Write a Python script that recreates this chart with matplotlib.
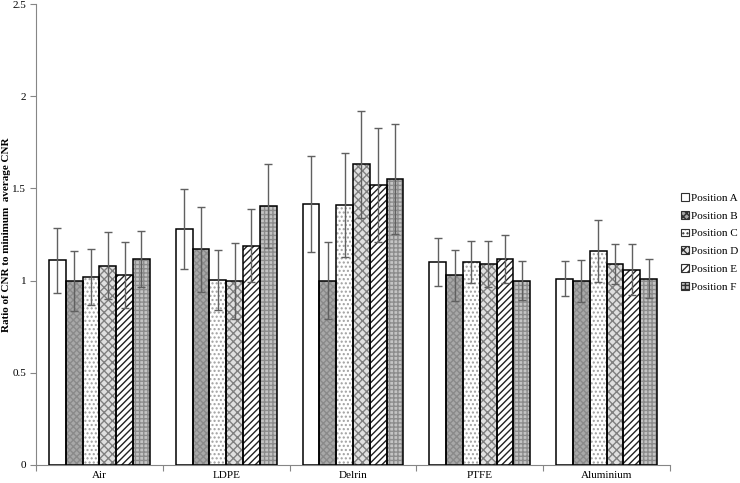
import matplotlib
matplotlib.use("Agg")
import matplotlib.pyplot as plt
import numpy as np
from matplotlib.patches import Patch

plt.rcParams['font.family'] = ['Liberation Serif', 'DejaVu Serif']
plt.rcParams['hatch.linewidth'] = 1.0

categories = ["Air", "LDPE", "Delrin", "PTFE", "Aluminium"]
positions = ["Position A", "Position B", "Position C", "Position D", "Position E", "Position F"]

# rows = positions A-F, columns = materials
pos_a = [1.11, 1.28, 1.415, 1.10, 1.01]
pos_b = [1.00, 1.17, 1.00, 1.03, 1.00]
pos_c = [1.02, 1.005, 1.41, 1.10, 1.16]
pos_d = [1.08, 1.00, 1.63, 1.09, 1.09]
pos_e = [1.03, 1.19, 1.52, 1.115, 1.06]
pos_f = [1.115, 1.405, 1.55, 1.00, 1.01]

err_a = [0.175, 0.215, 0.26, 0.13, 0.095]
err_b = [0.163, 0.23, 0.21, 0.138, 0.114]
err_c = [0.152, 0.163, 0.28, 0.114, 0.17]
err_d = [0.181, 0.206, 0.29, 0.125, 0.109]
err_e = [0.179, 0.20, 0.31, 0.13, 0.136]
err_f = [0.152, 0.228, 0.30, 0.106, 0.106]

values = [pos_a, pos_b, pos_c, pos_d, pos_e, pos_f]
errors = [err_a, err_b, err_c, err_d, err_e, err_f]

# (facecolor, hatch, hatch colour)
styles = [
    ("white", "", "black"),
    ("#a8a8a8", "xxxxx", "#8a8a8a"),
    ("white", "....", "#a0a0a0"),
    ("#e0e0e0", "xxxx", "#808080"),
    ("white", "/////", "#202020"),
    ("#c4c4c4", "++++", "#8c8c8c"),
]

fig = plt.figure(figsize=(7.4, 4.83), dpi=100)
ax = fig.add_axes([0.0486, 0.0373, 0.8568, 0.9544])

x = np.arange(len(categories))
w = 0.1325
for i in range(6):
    xs = x + (i - 2.5) * w
    fc, h, hc = styles[i]
    ax.bar(xs, values[i], w, color=fc, hatch=h, edgecolor=hc, linewidth=0, zorder=2)
    ax.bar(xs, values[i], w, fill=False, edgecolor="black", linewidth=1.1, zorder=3)
    ax.errorbar(xs, values[i], yerr=errors[i], fmt="none", ecolor="#606060",
                elinewidth=1, capsize=3, capthick=1, zorder=4)

ax.set_xlim(-0.5, len(categories) - 0.5)
ax.set_ylim(0, 2.5)
ax.set_yticks([0, 0.5, 1, 1.5, 2, 2.5])
ax.set_yticklabels(["0", "0.5", "1", "1.5", "2", "2.5"], fontsize=8)
ax.set_xticks(np.arange(-0.5, len(categories), 1))
ax.set_xticklabels([])
ax.set_xticks(x, minor=True)
ax.set_xticklabels(categories, minor=True, fontsize=8)
ax.tick_params(axis="x", which="minor", length=0, pad=4)
ax.tick_params(axis="x", which="major", length=4, color="#868686")
ax.tick_params(axis="y", length=4, color="#868686", pad=3)

for s in ["top", "right"]:
    ax.spines[s].set_visible(False)
for s in ["left", "bottom"]:
    ax.spines[s].set_color("#868686")

ax.set_ylabel("Ratio of CNR to minimum  average CNR", fontsize=8, fontweight="bold")
ax.yaxis.set_label_coords(-0.039, 0.5)

handles = [Patch(facecolor=fc, hatch=h, edgecolor="#303030", linewidth=0.8)
           for fc, h, hc in styles]
ax.legend(handles, positions, loc="center left", bbox_to_anchor=(1.01, 0.483),
          frameon=False, fontsize=8, handlelength=0.7, handleheight=0.7,
          handletextpad=0.2, labelspacing=0.72, borderaxespad=0)

fig.savefig("out.png", dpi=100)
